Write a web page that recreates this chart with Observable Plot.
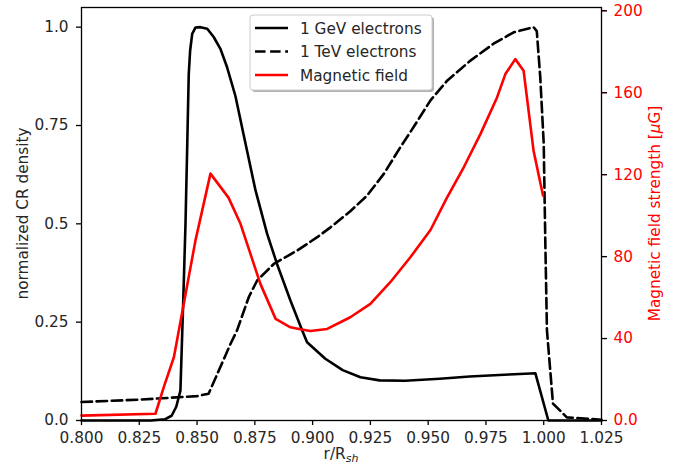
<!DOCTYPE html>
<html><head><meta charset="utf-8">
<script src="https://cdn.jsdelivr.net/npm/d3@7"></script>
<script src="https://cdn.jsdelivr.net/npm/@observablehq/plot@0.6"></script>
<style>body{margin:0;background:#fff}</style>
</head><body><div id="chart"></div>
<script>
// 1 GeV electrons (normalized)
const gevR = [0.800, 0.830, 0.836, 0.839, 0.841, 0.8428, 0.844, 0.845, 0.8457, 0.8464, 0.847, 0.8479, 0.8493, 0.8515, 0.8544, 0.8572, 0.8601, 0.863, 0.8666, 0.8702, 0.8753, 0.8803, 0.8846, 0.8904, 0.8955, 0.8976, 0.9055, 0.913, 0.9207, 0.929, 0.940, 0.955, 0.968, 0.985, 0.9964, 1.0020, 1.025];
const gevN = [0.000, 0.000, 0.003, 0.012, 0.035, 0.076, 0.30, 0.50, 0.686, 0.88, 0.94, 0.983, 0.999, 1.0, 0.996, 0.975, 0.945, 0.898, 0.825, 0.725, 0.585, 0.475, 0.398, 0.305, 0.229, 0.199, 0.157, 0.128, 0.110, 0.102, 0.101, 0.106, 0.112, 0.117, 0.120, 0.0, 0.0];
// 1 TeV electrons (normalized)
const tevR = [0.800, 0.825, 0.850, 0.855, 0.8645, 0.8673, 0.8724, 0.876, 0.8832, 0.8933, 0.902, 0.9077, 0.9163, 0.9236, 0.9308, 0.938, 0.9437, 0.951, 0.9582, 0.9683, 0.9783, 0.987, 0.9956, 0.997, 0.9985, 1.0000, 1.0007, 1.0014, 1.004, 1.010, 1.025];
const tevN = [0.047, 0.053, 0.062, 0.068, 0.195, 0.229, 0.314, 0.356, 0.398, 0.432, 0.466, 0.491, 0.532, 0.572, 0.627, 0.695, 0.746, 0.814, 0.864, 0.915, 0.958, 0.987, 1.0, 0.99, 0.873, 0.704, 0.45, 0.229, 0.043, 0.008, 0.002];
// Magnetic field strength (muG)
const bR = [0.800, 0.832, 0.8356, 0.840, 0.8493, 0.8558, 0.8636, 0.8688, 0.8731, 0.8774, 0.884, 0.8904, 0.8947, 0.899, 0.9063, 0.9163, 0.925, 0.9336, 0.9423, 0.951, 0.9582, 0.9654, 0.9726, 0.9798, 0.9834, 0.9877, 0.9913, 0.9956, 0.9997];
const bV = [2.4, 3.3, 16.3, 31, 87.8, 120.5, 108.8, 96, 81.3, 66.7, 49.6, 45.5, 44.5, 43.7, 44.7, 50.4, 56.9, 67.5, 79.7, 93, 108.9, 123.6, 139.8, 157.7, 169.1, 176.4, 170.7, 131.7, 109.8];

const xTicks = [0.800, 0.825, 0.850, 0.875, 0.900, 0.925, 0.950, 0.975, 1.000, 1.025];
const xTickLabels = ["0.800", "0.825", "0.850", "0.875", "0.900", "0.925", "0.950", "0.975", "1.000", "1.025"];
const yTicks = [0, 0.25, 0.5, 0.75, 1.0];
const yTickLabels = ["0.0", "0.25", "0.5", "0.75", "1.0"];
const bTicks = [0, 40, 80, 120, 160, 200];
const bTickLabels = ["0.0", "40", "80", "120", "160", "200"];

const seriesNames = ["1 GeV electrons", "1 TeV electrons", "Magnetic field"];

const bScale = 192; // muG per unit of left axis
const gev = gevR.map((r, i) => ({r, v: gevN[i]}));
const tev = tevR.map((r, i) => ({r, v: tevN[i]}));
const bf = bR.map((r, i) => ({r, v: bV[i] / bScale}));
const bTickPos = bTicks.map(b => b / bScale);

const lookup = (ticks, labels) => d => labels[ticks.findIndex(t => Math.abs(t - d) < 1e-9)];

const W = 683, H = 472, mL = 81, mR = 82, mT = 7, mB = 52;
const dash = "10.5,4.6";
const lw = 2.6;
const fs = "15.3px";
const svg = Plot.plot({
  width: W, height: H,
  marginLeft: mL, marginRight: mR, marginTop: mT, marginBottom: mB,
  style: {fontFamily: "DejaVu Sans", fontSize: fs, background: "white", color: "#262626"},
  x: {domain: [0.8, 1.025]},
  y: {domain: [0, 1.05]},
  marks: [
    Plot.line(gev, {x: "r", y: "v", stroke: "black", strokeWidth: lw}),
    Plot.line(tev, {x: "r", y: "v", stroke: "black", strokeWidth: lw, strokeDasharray: dash}),
    Plot.line(bf, {x: "r", y: "v", stroke: "red", strokeWidth: lw}),
    Plot.frame({stroke: "black", strokeWidth: 1.3}),
    Plot.axisX({ticks: xTicks, tickFormat: lookup(xTicks, xTickLabels), tickSize: 5, tickPadding: 7, label: null, stroke: "black", fill: "#262626", strokeWidth: 1.3}),
    Plot.axisY({ticks: yTicks, tickFormat: lookup(yTicks, yTickLabels), tickSize: 5, tickPadding: 8, label: null, stroke: "black", fill: "#262626", strokeWidth: 1.3}),
    Plot.axisY({anchor: "right", ticks: bTickPos, tickFormat: d => bTickLabels[bTickPos.findIndex(t => Math.abs(t - d) < 1e-9)], tickSize: 5, tickPadding: 7, label: null, color: "red"}),
    Plot.axisY({anchor: "right", ticks: bTickPos, tickFormat: () => "", tickSize: 5, label: null, stroke: "black", strokeWidth: 1.3})
  ]
});

const s = d3.select(svg);
const cx = (mL + (W - mR)) / 2, cy = (mT + (H - mB)) / 2;
// axis labels
s.append("text").attr("transform", `translate(23,${cy}) rotate(-90)`).attr("text-anchor", "middle").attr("dy", "0.35em")
  .attr("fill", "#262626").style("font-size", fs).text("normalized CR density");
const rl = s.append("text").attr("transform", `translate(655,${cy}) rotate(-90)`).attr("text-anchor", "middle").attr("dy", "0.35em")
  .attr("fill", "red").style("font-size", fs);
rl.append("tspan").text("Magnetic field strength [");
rl.append("tspan").attr("font-style", "italic").text("μ");
rl.append("tspan").text("G]");
const xl = s.append("text").attr("x", cx).attr("y", 459).attr("text-anchor", "middle").attr("fill", "#262626").style("font-size", fs);
xl.append("tspan").text("r/R");
xl.append("tspan").attr("font-style", "italic").attr("font-size", "11px").attr("dy", "3").text("sh");

// legend
const lg = s.append("g");
lg.append("rect").attr("x", 252).attr("y", 17).attr("width", 182).attr("height", 75).attr("rx", 3).attr("fill", "#000").attr("opacity", 0.3);
lg.append("rect").attr("x", 250).attr("y", 15).attr("width", 182).attr("height", 75).attr("rx", 3).attr("fill", "white").attr("stroke", "#cccccc");
const rows = [
  {name: seriesNames[0], stroke: "black", dash: null, y: 28},
  {name: seriesNames[1], stroke: "black", dash: dash, y: 51.5},
  {name: seriesNames[2], stroke: "red", dash: null, y: 75}
];
rows.forEach(r => {
  lg.append("line").attr("x1", 255).attr("x2", 288).attr("y1", r.y).attr("y2", r.y)
    .attr("stroke", r.stroke).attr("stroke-width", lw).attr("stroke-dasharray", r.dash);
  lg.append("text").attr("x", 300).attr("y", r.y).attr("dy", "0.36em").attr("text-anchor", "start")
    .attr("fill", "#262626").style("font-size", fs).text(r.name);
});

document.getElementById("chart").appendChild(svg);
</script>
</body></html>
